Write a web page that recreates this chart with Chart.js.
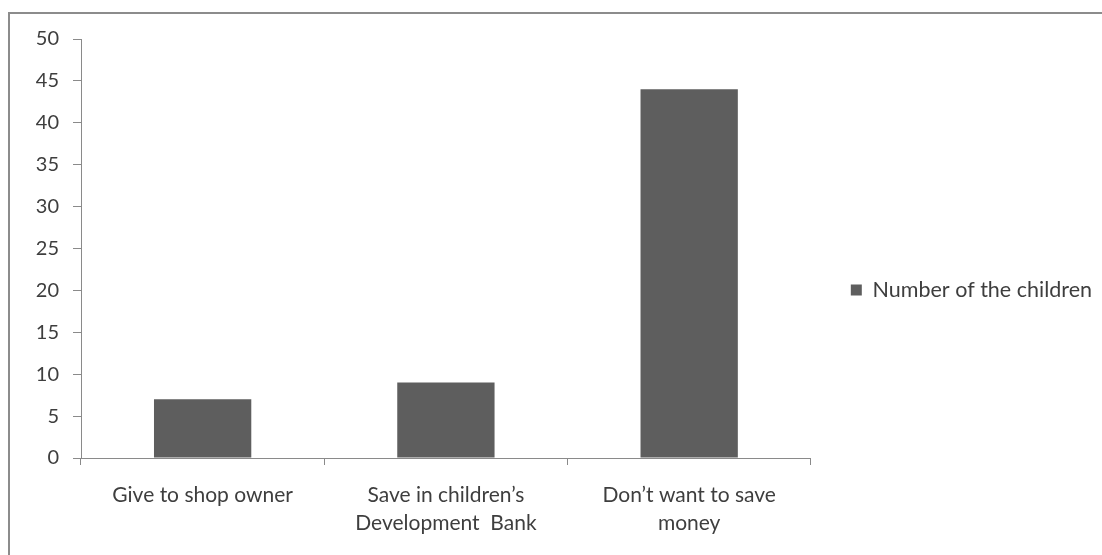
<!DOCTYPE html>
<html>
<head>
<meta charset="utf-8">
<script src="https://cdn.jsdelivr.net/npm/chart.js@4/dist/chart.umd.min.js"></script>
<style>
  html, body { margin: 0; padding: 0; background: #fff; }
  #wrap { position: relative; width: 1102px; height: 555px; }
</style>
</head>
<body>
<div id="wrap"><canvas id="c" width="1102" height="555"></canvas></div>
<script>
const categories = [
  "Give to shop owner",
  ["Save in children’s", "Development  Bank"],
  ["Don’t want to save", "money"]
];
const seriesName = "Number of the children";
const childrenCounts = [7, 9, 44];
const yTicks = [0, 5, 10, 15, 20, 25, 30, 35, 40, 45, 50];

const FONT = "Lato, 'Open Sans', sans-serif";
const TEXT = "#3e3e3e";
const AXIS = "#8a8a8a";

// Thin frame around the whole figure (open to the right and bottom)
const framePlugin = {
  id: 'frame',
  beforeDraw(chart) {
    const ctx = chart.ctx;
    ctx.save();
    ctx.fillStyle = '#fff';
    ctx.fillRect(0, 0, chart.width, chart.height);
    ctx.strokeStyle = '#8c8c8c';
    ctx.lineWidth = 2;
    ctx.beginPath();
    ctx.moveTo(9, chart.height + 5);
    ctx.lineTo(9, 13);
    ctx.lineTo(chart.width + 5, 13);
    ctx.stroke();
    ctx.restore();
  }
};

new Chart(document.getElementById('c'), {
  type: 'bar',
  data: {
    labels: categories,
    datasets: [{
      label: seriesName,
      data: childrenCounts,
      backgroundColor: '#5e5e5e',
      borderWidth: 0,
      categoryPercentage: 1.0,
      barPercentage: 0.4
    }]
  },
  options: {
    responsive: false,
    animation: false,
    devicePixelRatio: 1,
    layout: { padding: { top: 39, bottom: 14, left: 10, right: 0 } },
    plugins: {
      tooltip: { enabled: false },
      legend: {
        position: 'right',
        align: 'center',
        maxWidth: 400,
        labels: {
          font: { family: FONT, size: 21.5 },
          color: TEXT,
          boxWidth: 11,
          boxHeight: 11,
          padding: 40
        }
      }
    },
    scales: {
      x: {
        grid: { display: true, drawOnChartArea: false, offset: true, tickLength: 7, color: AXIS },
        border: { display: true, color: AXIS, width: 1 },
        ticks: {
          font: { family: FONT, size: 21, lineHeight: 1.33 },
          color: TEXT,
          padding: 16,
          maxRotation: 0,
          autoSkip: false
        },
        afterFit(scale) { scale.height = 83; }
      },
      y: {
        min: 0,
        max: 50,
        afterBuildTicks(scale) { scale.ticks = yTicks.map(v => ({ value: v })); },
        grid: { display: true, drawOnChartArea: false, tickLength: 8, color: AXIS },
        border: { display: true, color: AXIS, width: 1 },
        ticks: {
          font: { family: FONT, size: 20 },
          color: TEXT,
          padding: 14
        },
        afterFit(scale) { scale.width = 71; }
      }
    }
  },
  plugins: [framePlugin]
});
</script>
</body>
</html>
